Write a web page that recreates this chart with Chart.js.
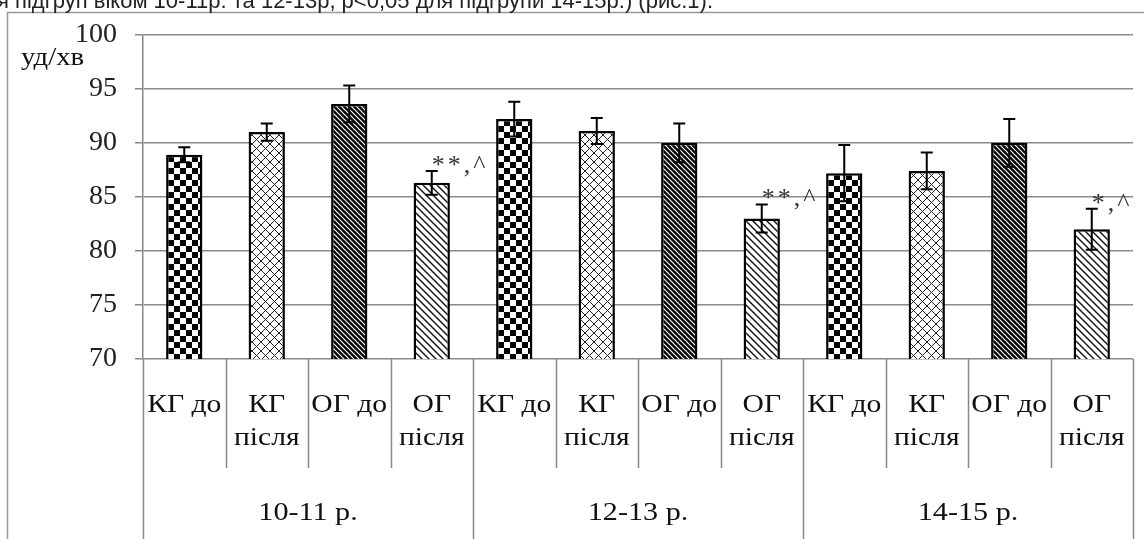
<!DOCTYPE html>
<html>
<head>
<meta charset="utf-8">
<script src="https://cdn.jsdelivr.net/npm/chart.js@4.4.0/dist/chart.umd.min.js"></script>
<style>
  body { margin: 0; background: #fff; overflow: hidden; }
  #wrap { position: relative; width: 1144px; height: 539px; }
  #cap { position: absolute; top: -10px; left: -3px; font: 22px/22px "Liberation Sans", Arial, sans-serif; color: #222; white-space: nowrap; z-index: 2; }
  canvas { position: absolute; left: 0; top: 0; }
</style>
</head>
<body>
<div id="wrap">
  <div id="cap">я підгруп віком 10-11р. та 12-13р, р&lt;0,05 для підгрупи 14-15р.) (рис.1).</div>
  <canvas id="myChart" width="1144" height="539"></canvas>
</div>
<script>
const groups = ["10-11 р.", "12-13 р.", "14-15 р."];
const subLabels = [["КГ до"], ["КГ", "після"], ["ОГ до"], ["ОГ", "після"]];
const categories = groups.flatMap(g => subLabels.map(s => g + " " + s.join(" ")));
const values = [88.9, 91.0, 93.6, 86.3, 92.2, 91.1, 90.0, 83.0, 87.2, 87.4, 90.0, 82.0];
const errors = [0.7, 0.8, 1.7, 1.1, 1.6, 1.2, 1.8, 1.3, 2.6, 1.7, 2.2, 1.9];
const marks = ["", "", "", "**,^", "", "", "", "**,^", "", "", "", "*,^"];
const yTicks = [70, 75, 80, 85, 90, 95, 100];
const unitLabel = "уд/хв";

function makePattern(kind) {
  const c = document.createElement("canvas");
  const x = c.getContext("2d");
  if (kind === "checker") {
    c.width = c.height = 12;
    x.fillStyle = "#fff"; x.fillRect(0, 0, 12, 12);
    x.fillStyle = "#000"; x.fillRect(0, 0, 6, 6); x.fillRect(6, 6, 6, 6);
  } else if (kind === "cross") {
    c.width = c.height = 9;
    x.fillStyle = "#fff"; x.fillRect(0, 0, 9, 9);
    x.strokeStyle = "#222"; x.lineWidth = 1;
    x.beginPath();
    x.moveTo(0, 0); x.lineTo(9, 9);
    x.moveTo(0, 9); x.lineTo(9, 0);
    x.stroke();
  } else {
    const s = kind === "dark" ? 5 : 7;
    c.width = c.height = s;
    x.fillStyle = kind === "dark" ? "#000" : "#fff";
    x.fillRect(0, 0, s, s);
    x.strokeStyle = kind === "dark" ? "#fff" : "#111";
    x.lineWidth = kind === "dark" ? 1.2 : 1.4;
    x.beginPath();
    for (const k of [-s, 0, s]) { x.moveTo(k - 1, -1); x.lineTo(k + s + 1, s + 1); }
    x.stroke();
  }
  return document.getElementById("myChart").getContext("2d").createPattern(c, "repeat");
}
const pats = ["checker", "cross", "dark", "light"].map(makePattern);

const serif = '"Liberation Serif", "Times New Roman", serif';

// text in the original is a bit stretched sideways
function wideText(ctx, text, x, y, sx) {
  ctx.save();
  ctx.translate(x, y);
  ctx.scale(sx, 1);
  ctx.fillText(text, 0, 0);
  ctx.restore();
}

const decor = {
  id: "decor",
  beforeDraw(chart) {
    const ctx = chart.ctx;
    ctx.save();
    ctx.strokeStyle = "#999"; ctx.lineWidth = 1.5;
    ctx.strokeRect(7.5, 12.5, 1160, 560);
    ctx.restore();
  },
  afterDatasetsDraw(chart) {
    const ctx = chart.ctx;
    const xs = chart.scales.x, ys = chart.scales.y;
    const meta = chart.getDatasetMeta(0);
    ctx.save();
    // error bars
    ctx.strokeStyle = "#000"; ctx.lineWidth = 2;
    meta.data.forEach((bar, i) => {
      const top = ys.getPixelForValue(values[i] + errors[i]);
      const bot = ys.getPixelForValue(values[i] - errors[i]);
      ctx.beginPath();
      ctx.moveTo(bar.x, top); ctx.lineTo(bar.x, bot);
      ctx.moveTo(bar.x - 6, top); ctx.lineTo(bar.x + 6, top);
      ctx.moveTo(bar.x - 6, bot); ctx.lineTo(bar.x + 6, bot);
      ctx.stroke();
      if (marks[i]) {
        ctx.fillStyle = "#333";
        ctx.font = "26px " + serif;
        ctx.letterSpacing = "3px";
        ctx.textAlign = "left"; ctx.textBaseline = "alphabetic";
        ctx.fillText(marks[i], bar.x, top + 2);
      }
    });
    ctx.letterSpacing = "0px";
    // category table below the plot
    const area = chart.chartArea;
    const step = (xs.getPixelForValue(1) - xs.getPixelForValue(0));
    ctx.strokeStyle = "#888"; ctx.lineWidth = 1.5;
    ctx.beginPath();
    for (let i = 0; i <= categories.length; i++) {
      const x = Math.round(xs.getPixelForValue(i) - step / 2) + 0.5;
      const isGroup = i % subLabels.length === 0;
      ctx.moveTo(x, area.bottom); ctx.lineTo(x, isGroup ? 539 : 468);
    }
    ctx.stroke();
    ctx.fillStyle = "#111";
    ctx.font = "26px " + serif;
    ctx.textAlign = "center"; ctx.textBaseline = "alphabetic";
    categories.forEach((c, i) => {
      const lines = subLabels[i % subLabels.length];
      const x = xs.getPixelForValue(i);
      lines.forEach((l, j) => wideText(ctx, l, x, 412 + j * 33, 1.14));
    });
    groups.forEach((g, gi) => {
      const n = subLabels.length;
      const x = (xs.getPixelForValue(gi * n) + xs.getPixelForValue(gi * n + n - 1)) / 2;
      wideText(ctx, g, x, 520, 1.16);
    });
    // unit label
    ctx.font = "25px " + serif;
    ctx.textAlign = "left";
    wideText(ctx, unitLabel, 21, 65, 1.15);
    ctx.restore();
  }
};

new Chart(document.getElementById("myChart"), {
  type: "bar",
  data: {
    labels: categories,
    datasets: [{
      data: values,
      backgroundColor: values.map((v, i) => pats[i % 4]),
      borderColor: "#000",
      borderWidth: 2.5,
      borderSkipped: false,
      categoryPercentage: 1,
      barPercentage: 0.44
    }]
  },
  options: {
    responsive: false,
    animation: false,
    layout: { padding: { left: 0, right: 11, top: 30, bottom: 180 } },
    plugins: { legend: { display: false }, tooltip: { enabled: false } },
    scales: {
      x: { display: false, grid: { offset: true } },
      y: {
        min: 70, max: 100,
        afterFit(scale) { scale.width = 143; },
        afterBuildTicks(scale) { scale.ticks = yTicks.map(v => ({ value: v })); },
        border: { color: "#888", width: 1.5 },
        grid: { color: "#8a8a8a", lineWidth: 1.5, tickLength: 8 },
        ticks: { color: "#222", padding: 18, font: { family: serif, size: 28 } }
      }
    }
  },
  plugins: [decor]
});
</script>
</body>
</html>
